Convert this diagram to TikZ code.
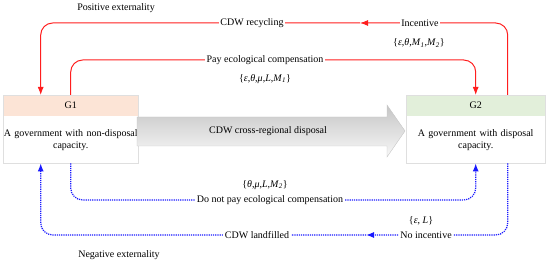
\documentclass[tikz,border=0pt]{standalone}
\usepackage{fontspec}
\setmainfont{Liberation Serif}
\usetikzlibrary{arrows.meta}
\definecolor{peach}{RGB}{252,228,214}
\definecolor{lgreen}{RGB}{226,239,218}
\definecolor{myred}{RGB}{255,30,30}
\definecolor{myblue}{RGB}{25,25,255}
\begin{document}
\begin{tikzpicture}[x=1pt,y=-1pt,
  font=\fontsize{10}{12}\selectfont,
  hdr/.style={inner sep=0pt, anchor=north west, minimum height=21pt},
  bodybox/.style={inner sep=0pt, anchor=north west, minimum height=47pt, fill=white, align=center, text width=#1, minimum width=#1},
  redl/.style={draw=myred, line width=1pt, rounded corners=12pt},
  bluel/.style={draw=myblue, line width=1.2pt, densely dotted, rounded corners=12pt},
  tip/.style={-{Latex[length=8pt,width=6pt]}},
  lbl/.style={fill=white, inner sep=1.5pt},
  plain/.style={inner sep=1pt}
]
\useasboundingbox (0,0) rectangle (550,264);

% boxes
\node[hdr, fill=peach, minimum width=135pt] (g1h) at (3,95) {G1};
\node[bodybox=135pt] (g1b) at (3,116) {A government with non-disposal\\capacity.};
\draw[gray!25] (g1h.north west) rectangle (g1b.south east);

\node[hdr, fill=lgreen, minimum width=139pt] (g2h) at (406,95) {G2};
\node[bodybox=139pt] (g2b) at (406,116) {A government with disposal\\capacity.};
\draw[gray!25] (g2h.north west) rectangle (g2b.south east);

% big arrow
\path[draw=gray!45, top color=gray!45, bottom color=gray!6]
  (137,117) -- (387,117) -- (387,105) -- (405,131) -- (387,157) -- (387,146) -- (137,146) -- cycle;
\node[plain] (cdwx) at (268,131) {CDW cross-regional disposal};

% connector coordinates
\coordinate (g2r) at ([xshift=32pt]g2h.north);
\coordinate (g1l) at ([xshift=-30pt]g1h.north);
\coordinate (g2rb) at ([xshift=32pt]g2b.south);
\coordinate (g1lb) at ([xshift=-30pt]g1b.south);
\coordinate (m1) at (360,23);
\coordinate (p2) at (265,60);
\coordinate (p3) at (270,200);
\coordinate (m4) at (366,235);

% red connectors
\draw[redl, tip] (g2r) |- (m1);
\draw[redl, tip] (m1) -| (g1l);
\draw[redl, tip] (g1h.north) |- (p2) -| (g2h.north);

% blue connectors
\draw[bluel, tip] (g1b.south) |- (p3) -| (g2b.south);
\draw[bluel, tip] (g2rb) |- (m4);
\draw[bluel, tip] (m4) -| (g1lb);

% labels
\node[plain] (pos) at (116,8) {Positive externality};
\node[lbl] (rec) at (252,23) {CDW recycling};
\node[lbl] (inc) at (420,23) {Incentive};
\node[plain] (s1) at (419,43) {\{\textit{ε},\textit{θ},\textit{M}\textsubscript{\textit{1}},\textit{M}\textsubscript{\textit{2}}\}};
\node[lbl] (pay) at (265,60) {Pay ecological compensation};
\node[plain] (s2) at (265,79) {\{\textit{ε},\textit{θ},\textit{μ},\textit{L},\textit{M}\textsubscript{\textit{1}}\}};
\node[plain] (s3) at (265,185) {\{\textit{θ},\textit{μ},\textit{L},\textit{M}\textsubscript{\textit{2}}\}};
\node[lbl] (nopay) at (270,200) {Do not pay ecological compensation};
\node[plain] (s4) at (421,221) {\{\textit{ε}, \textit{L}\}};
\node[lbl] (noinc) at (426,235) {No incentive};
\node[lbl] (land) at (257,235) {CDW landfilled};
\node[plain] (neg) at (119,255) {Negative externality};
\end{tikzpicture}
\end{document}
